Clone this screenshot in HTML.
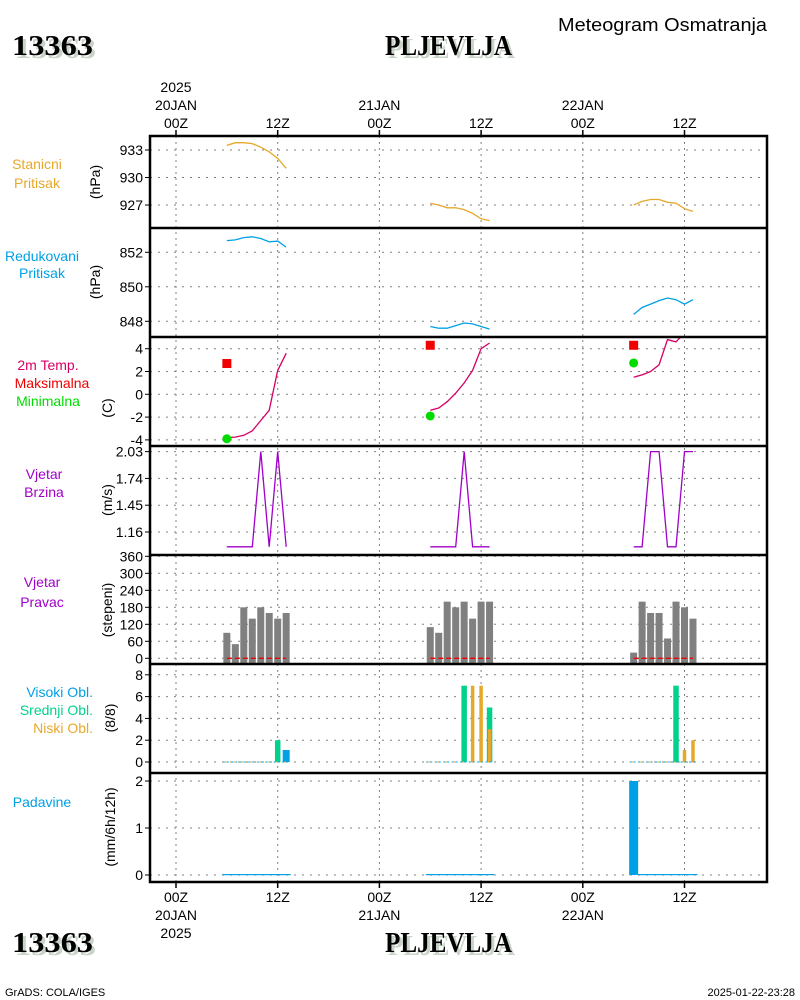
<!DOCTYPE html>
<html><head><meta charset="utf-8"><style>
html,body{margin:0;padding:0;background:#fff;}
svg{display:block;font-family:"Liberation Sans",sans-serif;}
</style></head><body>
<svg id="chart" width="800" height="1000" viewBox="0 0 800 1000" xmlns="http://www.w3.org/2000/svg">
<rect x="0" y="0" width="800" height="1000" fill="#fff"/>
<g id="titles">
 <text x="15" y="58" font-family="Liberation Serif,serif" font-weight="bold" font-size="29" fill="#c8d4c8" textLength="81" lengthAdjust="spacingAndGlyphs">13363</text>
 <text x="12" y="55" font-family="Liberation Serif,serif" font-weight="bold" font-size="29" fill="#000" textLength="81" lengthAdjust="spacingAndGlyphs">13363</text>
 <text x="388" y="58" font-family="Liberation Serif,serif" font-weight="bold" font-size="29" fill="#c8d4c8" textLength="127" lengthAdjust="spacingAndGlyphs">PLJEVLJA</text>
 <text x="385" y="55" font-family="Liberation Serif,serif" font-weight="bold" font-size="29" fill="#000" textLength="127" lengthAdjust="spacingAndGlyphs">PLJEVLJA</text>
 <text x="558" y="31" font-size="18" fill="#000" textLength="209" lengthAdjust="spacingAndGlyphs">Meteogram Osmatranja</text>
 <text x="15" y="955" font-family="Liberation Serif,serif" font-weight="bold" font-size="29" fill="#c8d4c8" textLength="81" lengthAdjust="spacingAndGlyphs">13363</text>
 <text x="12" y="952" font-family="Liberation Serif,serif" font-weight="bold" font-size="29" fill="#000" textLength="81" lengthAdjust="spacingAndGlyphs">13363</text>
 <text x="388" y="955" font-family="Liberation Serif,serif" font-weight="bold" font-size="29" fill="#c8d4c8" textLength="127" lengthAdjust="spacingAndGlyphs">PLJEVLJA</text>
 <text x="385" y="952" font-family="Liberation Serif,serif" font-weight="bold" font-size="29" fill="#000" textLength="127" lengthAdjust="spacingAndGlyphs">PLJEVLJA</text>
 <text x="5" y="996" font-size="11" fill="#000">GrADS: COLA/IGES</text>
 <text x="795" y="996" font-size="11" fill="#000" text-anchor="end">2025-01-22-23:28</text>
</g>
<g id="labels" font-size="14">
 <text x="37" y="169" fill="#e6a82a" text-anchor="middle">Stanicni</text>
 <text x="37" y="188" fill="#e6a82a" text-anchor="middle">Pritisak</text>
 <text x="42" y="261" fill="#00a0e6" text-anchor="middle">Redukovani</text>
 <text x="42" y="278" fill="#00a0e6" text-anchor="middle">Pritisak</text>
 <text x="48" y="370" fill="#d70064" text-anchor="middle">2m Temp.</text>
 <text x="52" y="388" fill="#f00000" text-anchor="middle">Maksimalna</text>
 <text x="48" y="406" fill="#00dc00" text-anchor="middle">Minimalna</text>
 <text x="44" y="479" fill="#a000c8" text-anchor="middle">Vjetar</text>
 <text x="44" y="497" fill="#a000c8" text-anchor="middle">Brzina</text>
 <text x="42" y="587" fill="#a000c8" text-anchor="middle">Vjetar</text>
 <text x="42" y="607" fill="#a000c8" text-anchor="middle">Pravac</text>
 <text x="93" y="697" fill="#00a0e6" text-anchor="end">Visoki Obl.</text>
 <text x="93" y="715" fill="#00d28c" text-anchor="end">Srednji Obl.</text>
 <text x="93" y="733" fill="#e6a82a" text-anchor="end">Niski Obl.</text>
 <text x="42" y="807" fill="#00a0e6" text-anchor="middle">Padavine</text>
 <text transform="translate(100,182) rotate(-90)" fill="#000" text-anchor="middle">(hPa)</text>
 <text transform="translate(100,282) rotate(-90)" fill="#000" text-anchor="middle">(hPa)</text>
 <text transform="translate(112,408) rotate(-90)" fill="#000" text-anchor="middle">(C)</text>
 <text transform="translate(112,500) rotate(-90)" fill="#000" text-anchor="middle">(m/s)</text>
 <text transform="translate(112,610) rotate(-90)" fill="#000" text-anchor="middle">(stepeni)</text>
 <text transform="translate(115,718) rotate(-90)" fill="#000" text-anchor="middle">(8/8)</text>
 <text transform="translate(115,827) rotate(-90)" fill="#000" text-anchor="middle">(mm/6h/12h)</text>
</g>
<g id="grid"></g>
<g id="marks"></g>
<g id="frame"></g>
<g id="ticks" font-size="14"></g>
</svg>
<script>
// ---- data ----
const hours = [6,7,8,9,10,11,12,13, 30,31,32,33,34,35,36,37, 54,55,56,57,58,59,60,61];
const stationPressure = [933.5,933.8,933.8,933.7,933.3,932.8,932.1,931.0, 927.2,927.0,926.7,926.7,926.5,926.1,925.5,925.3, 927.0,927.4,927.6,927.6,927.3,927.2,926.6,926.3];
const seaPressure = [852.68,852.72,852.85,852.9,852.8,852.6,852.65,852.3, 847.7,847.6,847.6,847.75,847.9,847.85,847.7,847.55, 848.4,848.8,849.0,849.2,849.35,849.25,849.0,849.25];
const temperature = [-3.8,-3.75,-3.6,-3.2,-2.3,-1.4,2.1,3.6, -1.4,-1.2,-0.65,0.1,1.0,2.1,4.0,4.5, 1.5,1.7,2.0,2.6,4.8,4.6,5.4,5.6];
const maxTempHours = [6,30,54];
const maxTemp = [2.7,4.3,4.3];
const minTemp = [-3.9,-1.9,2.75];
const windSpeed = [1.0,1.0,1.0,1.0,2.03,1.0,2.03,1.0, 1.0,1.0,1.0,1.0,2.03,1.0,1.0,1.0, 1.0,1.0,2.03,2.03,1.0,1.0,2.03,2.03];
const windDir = [90,50,180,140,180,160,140,160, 110,90,200,180,200,140,200,200, 20,200,160,160,70,200,180,140];
const highCloud = [0,0,0,0,0,0,0,1.1, 0,0,0,0,0,0,0,0, 0,0,0,0,0,0,0,0];
const midCloud = [0,0,0,0,0,0,2,0, 0,0,0,0,7,0,0,5, 0,0,0,0,0,7,0,0];
const lowCloud = [0,0,0,0,0,0,0,0, 0,0,0,0,0,7,7,3, 0,0,0,0,0,0,1.1,2];
const precip = [0,0,0,0,0,0,0,0, 0,0,0,0,0,0,0,0, 2,0,0,0,0,0,0,0];
const p1Ticks = [933,930,927];
const p2Ticks = [852,850,848];
const p3Ticks = [4,2,0,-2,-4];
const p4Ticks = [2.03,1.74,1.45,1.16];
const p5Ticks = [360,300,240,180,120,60,0];
const p6Ticks = [8,6,4,2,0];
const p7Ticks = [2,1,0];
const timeTicks = [0,12,24,36,48,60];
const timeLabels = ["00Z","12Z","00Z","12Z","00Z","12Z"];
const dayLabels = ["20JAN","","21JAN","","22JAN",""];

// ---- scales ----
const NS="http://www.w3.org/2000/svg";
const L=150,R=767;
const xs=h=>176+h*101.7/12;
const panels=[
 {top:136,bot:228,y:v=>150+(933-v)*9.17,ticks:p1Ticks},
 {top:228,bot:337,y:v=>252.3+(852-v)*17.25,ticks:p2Ticks},
 {top:337,bot:446,y:v=>394.3-v*11.4,ticks:p3Ticks},
 {top:446,bot:555,y:v=>532-(v-1.16)*92.4,ticks:p4Ticks},
 {top:555,bot:664,y:v=>658.3-v*0.2833,ticks:p5Ticks},
 {top:664,bot:773,y:v=>762-v*10.9,ticks:p6Ticks},
 {top:773,bot:882,y:v=>875-v*47,ticks:p7Ticks}
];
function mk(tag,attrs,parent){const e=document.createElementNS(NS,tag);for(const k in attrs)e.setAttribute(k,attrs[k]);parent.appendChild(e);return e;}
const grid=document.getElementById('grid'),marks=document.getElementById('marks'),frame=document.getElementById('frame'),ticks=document.getElementById('ticks');

// clip paths
const defs=mk('defs',{},document.getElementById('chart'));
panels.forEach((p,i)=>{const c=mk('clipPath',{id:'clip'+i},defs);mk('rect',{x:L,y:p.top,width:R-L,height:p.bot-p.top},c);});

// grid
timeTicks.forEach((h,i)=>{
 const x=xs(h);
 const g=mk('line',{x1:x,y1:136,x2:x,y2:882,stroke:'#808080','stroke-dasharray':'2,4'},grid);
 
 
 mk('line',{x1:x,y1:130,x2:x,y2:136,stroke:'#000','stroke-width':1.5},ticks);
 mk('line',{x1:x,y1:882,x2:x,y2:888,stroke:'#000','stroke-width':1.5},ticks);
 const t=mk('text',{x:x,y:128,'text-anchor':'middle'},ticks);t.textContent=timeLabels[i];
 
 
 const b=mk('text',{x:x,y:902,'text-anchor':'middle'},ticks);b.textContent=timeLabels[i];
 
 
 if(dayLabels[i]){
  const d=mk('text',{x:x,y:110,'text-anchor':'middle'},ticks);d.textContent=dayLabels[i];
  
  
  const d2=mk('text',{x:x,y:920,'text-anchor':'middle'},ticks);d2.textContent=dayLabels[i];
  
  
 }
});
const yr=mk('text',{x:xs(0),y:92,'text-anchor':'middle'},ticks);yr.textContent='2025';


const yr2=mk('text',{x:xs(0),y:938,'text-anchor':'middle'},ticks);yr2.textContent='2025';



panels.forEach((p,i)=>{
 p.ticks.forEach(v=>{
  const y=p.y(v);
  mk('line',{x1:L,y1:y,x2:R,y2:y,stroke:'#808080','stroke-dasharray':'2,6'},grid);
  mk('line',{x1:L-5,y1:y,x2:L,y2:y,stroke:'#000'},ticks);
  const t=mk('text',{x:L-7,y:y+5,'text-anchor':'end'},ticks);t.textContent=String(v);
  
  
 });
 if(i>0) mk('line',{x1:L,y1:p.top,x2:R,y2:p.top,stroke:'#000','stroke-width':2.5},frame);
});
mk('rect',{x:L,y:136,width:R-L,height:746,fill:'none',stroke:'#000','stroke-width':2.5},frame);

// line series helper (break per day)
function drawLine(vals,pi,color,name){
 const p=panels[pi];
 for(let d=0;d<3;d++){
  const pts=[];
  for(let k=d*8;k<d*8+8;k++) if(vals[k]!=null) pts.push(xs(hours[k]).toFixed(1)+','+p.y(vals[k]).toFixed(1));
  const pl=mk('polyline',{points:pts.join(' '),fill:'none',stroke:color,'stroke-width':1.3,'clip-path':'url(#clip'+pi+')'},marks);
  
  
 }
}
drawLine(stationPressure,0,'#e6a82a','station-pressure-line');
drawLine(seaPressure,1,'#00a0e6','sea-pressure-line');
drawLine(temperature,2,'#d70064','temperature-line');
drawLine(windSpeed,3,'#a000c8','wind-speed-line');

maxTempHours.forEach((h,i)=>{
 const x=xs(h);
 const s=mk('rect',{x:x-4.5,y:panels[2].y(maxTemp[i])-4.5,width:9,height:9,fill:'#f00000'},marks);
 
 
 const c=mk('circle',{cx:x,cy:panels[2].y(minTemp[i]),r:4.5,fill:'#00dc00'},marks);
 
 
});

// wind direction bars
hours.forEach((h,k)=>{
 const x=xs(h),p=panels[4],y=p.y(windDir[k]);
 const b=mk('rect',{x:x-3.5,y:y,width:7,height:p.bot-y,fill:'#808080'},marks);
 
 
});
for(let d=0;d<3;d++){
 const ln=mk('line',{x1:xs(hours[d*8]),y1:658.3,x2:xs(hours[d*8+7]),y2:658.3,stroke:'#f00000','stroke-width':1.3,'stroke-dasharray':'5,3'},marks);
 
 
}

// clouds
function cloudBars(vals,w,color,name){
 hours.forEach((h,k)=>{
  const x=xs(h),p=panels[5],y=p.y(vals[k]);
  if(vals[k]>0){
   const b=mk('rect',{x:x-w/2,y:y,width:w,height:p.y(0)-y,fill:color},marks);
   
   
  }
 });
}
cloudBars(highCloud,7,'#00a0e6','high-cloud-bar');
cloudBars(midCloud,5.5,'#00d28c','mid-cloud-bar');
cloudBars(lowCloud,3.5,'#e6a82a','low-cloud-bar');
hours.forEach(h=>{
 const x=xs(h);
 mk('line',{x1:x-4,y1:762,x2:x+4,y2:762,stroke:'#00a0e6','stroke-width':1,'stroke-dasharray':'2,2'},marks);
 mk('line',{x1:x-2,y1:762,x2:x+4,y2:762,stroke:'#e6a82a','stroke-width':1,'stroke-dasharray':'2,4'},marks);
});

// precipitation
hours.forEach((h,k)=>{
 const x=xs(h),p=panels[6],y=p.y(precip[k]);
 const b=mk('rect',{x:x-4.5,y:Math.min(y,874),width:9,height:Math.max(p.y(0)-y,1.2),fill:'#00a0e6'},marks);
 
 
});
</script>
</body></html>
